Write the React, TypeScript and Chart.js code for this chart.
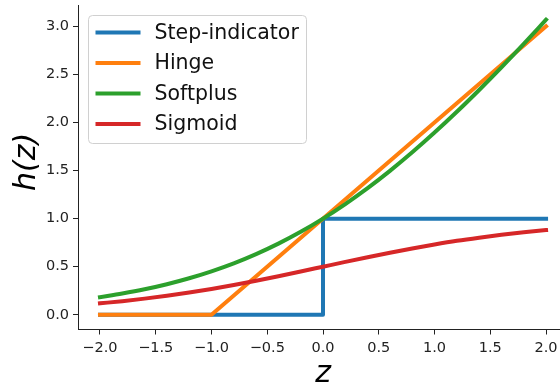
import React, { useEffect, useRef } from "react";
import { Chart, registerables } from "chart.js";

Chart.register(...registerables);

// Sample grid for the smooth curves
const zGrid = [
  -2.0, -1.8, -1.6, -1.4, -1.2, -1.0, -0.8, -0.6, -0.4, -0.2, 0.0,
  0.2, 0.4, 0.6, 0.8, 1.0, 1.2, 1.4, 1.6, 1.8, 2.0,
];
const softplusValues = [
  0.183, 0.221, 0.265, 0.318, 0.38, 0.452, 0.535, 0.631, 0.74, 0.863, 1.0,
  1.152, 1.317, 1.497, 1.69, 1.895, 2.111, 2.338, 2.574, 2.818, 3.069,
];
const sigmoidValues = [
  0.119, 0.142, 0.168, 0.198, 0.232, 0.269, 0.31, 0.354, 0.401, 0.45, 0.5,
  0.55, 0.599, 0.646, 0.69, 0.731, 0.769, 0.802, 0.832, 0.858, 0.881,
];
const stepZ = [-2, 0, 0, 2];
const stepValues = [0, 0, 1, 1];
const hingeZ = [-2, -1, 2];
const hingeValues = [0, 0, 3];

const xTickValues = [-2, -1.5, -1, -0.5, 0, 0.5, 1, 1.5, 2];
const yTickValues = [0, 0.5, 1, 1.5, 2, 2.5, 3];

const seriesNames = ["Step-indicator", "Hinge", "Softplus", "Sigmoid"];
const seriesColors = ["#1f77b4", "#ff7f0e", "#2ca02c", "#d62728"];

const FONT = "'DejaVu Sans', 'Liberation Sans', sans-serif";

const pairs = (xs: number[], ys: number[]) => xs.map((x, i) => ({ x, y: ys[i] }));
const fmt = (v: number) => v.toFixed(1).replace("-", "\u2212");

const decorPlugin = {
  id: "decor",
  afterDatasetsDraw(chart: any) {
    const { ctx, chartArea } = chart;
    ctx.save();
    // legend frame
    const bx = chartArea.left + 10.5;
    const by = chartArea.top + 10.5;
    const bw = 218;
    const bh = 128;
    const r = 4;
    ctx.beginPath();
    ctx.moveTo(bx + r, by);
    ctx.lineTo(bx + bw - r, by);
    ctx.arcTo(bx + bw, by, bx + bw, by + r, r);
    ctx.lineTo(bx + bw, by + bh - r);
    ctx.arcTo(bx + bw, by + bh, bx + bw - r, by + bh, r);
    ctx.lineTo(bx + r, by + bh);
    ctx.arcTo(bx, by + bh, bx, by + bh - r, r);
    ctx.lineTo(bx, by + r);
    ctx.arcTo(bx, by, bx + r, by, r);
    ctx.closePath();
    ctx.fillStyle = "rgba(255,255,255,0.8)";
    ctx.fill();
    ctx.strokeStyle = "#d0d0d0";
    ctx.lineWidth = 1;
    ctx.stroke();

    ctx.font = `20.5px ${FONT}`;
    ctx.textBaseline = "middle";
    ctx.textAlign = "left";
    seriesNames.forEach((name, i) => {
      const y = by + 17 + i * 30.5;
      ctx.strokeStyle = seriesColors[i];
      ctx.lineWidth = 4;
      ctx.lineCap = "butt";
      ctx.beginPath();
      ctx.moveTo(bx + 7, y);
      ctx.lineTo(bx + 52, y);
      ctx.stroke();
      ctx.fillStyle = "#111";
      ctx.fillText(name, bx + 66, y + 1);
    });

    // axis titles
    ctx.fillStyle = "#000";
    ctx.font = `italic 30px ${FONT}`;
    ctx.textAlign = "center";
    ctx.textBaseline = "alphabetic";
    ctx.fillText("z", chart.scales.x.getPixelForValue(0), 382);
    ctx.save();
    ctx.translate(35, 162);
    ctx.rotate(-Math.PI / 2);
    ctx.fillText("h(z)", 0, 0);
    ctx.restore();
    ctx.restore();
  },
};

export default function App() {
  const canvasRef = useRef<HTMLCanvasElement | null>(null);

  useEffect(() => {
    if (!canvasRef.current) return;
    const lineStyle = {
      borderWidth: 4,
      pointRadius: 0,
      fill: false,
      borderCapStyle: "square" as const,
      borderJoinStyle: "round" as const,
    };
    const chart = new Chart(canvasRef.current, {
      type: "line",
      data: {
        datasets: [
          { label: seriesNames[0], data: pairs(stepZ, stepValues), borderColor: seriesColors[0], order: 4, ...lineStyle },
          { label: seriesNames[1], data: pairs(hingeZ, hingeValues), borderColor: seriesColors[1], order: 3, ...lineStyle },
          { label: seriesNames[2], data: pairs(zGrid, softplusValues), borderColor: seriesColors[2], order: 2, cubicInterpolationMode: "monotone", ...lineStyle },
          { label: seriesNames[3], data: pairs(zGrid, sigmoidValues), borderColor: seriesColors[3], order: 1, cubicInterpolationMode: "monotone", ...lineStyle },
        ],
      },
      options: {
        responsive: false,
        animation: false,
        devicePixelRatio: 1,
        layout: { padding: { top: 5, right: 0, left: 0, bottom: 0 } },
        plugins: { legend: { display: false }, tooltip: { enabled: false } },
        scales: {
          x: {
            type: "linear",
            min: -2.197,
            max: 2.125,
            afterBuildTicks: (s: any) => { s.ticks = xTickValues.map((v) => ({ value: v })); },
            afterFit: (s: any) => { s.height = 54.5; s.paddingLeft = 0; s.paddingRight = 0; },
            grid: { drawOnChartArea: false, drawTicks: true, tickLength: 5, color: "#222", lineWidth: 1 },
            border: { display: true, color: "#222", width: 1 },
            ticks: { color: "#222", font: { family: FONT, size: 14.5 }, padding: 5, maxRotation: 0, callback: (v: any) => fmt(Number(v)) },
          },
          y: {
            type: "linear",
            min: -0.153,
            max: 3.222,
            afterBuildTicks: (s: any) => { s.ticks = yTickValues.map((v) => ({ value: v })); },
            afterFit: (s: any) => { s.width = 78; s.paddingTop = 0; s.paddingBottom = 0; },
            grid: { drawOnChartArea: false, drawTicks: true, tickLength: 5, color: "#222", lineWidth: 1 },
            border: { display: true, color: "#222", width: 1 },
            ticks: { color: "#222", font: { family: FONT, size: 14.5 }, padding: 4, callback: (v: any) => fmt(Number(v)) },
          },
        },
      },
      plugins: [decorPlugin],
    });
    return () => chart.destroy();
  }, []);

  return (
    <div style={{ position: "absolute", left: 0, top: 0, width: 560, height: 384, background: "#fff" }}>
      <canvas ref={canvasRef} width={560} height={384} />
    </div>
  );
}
